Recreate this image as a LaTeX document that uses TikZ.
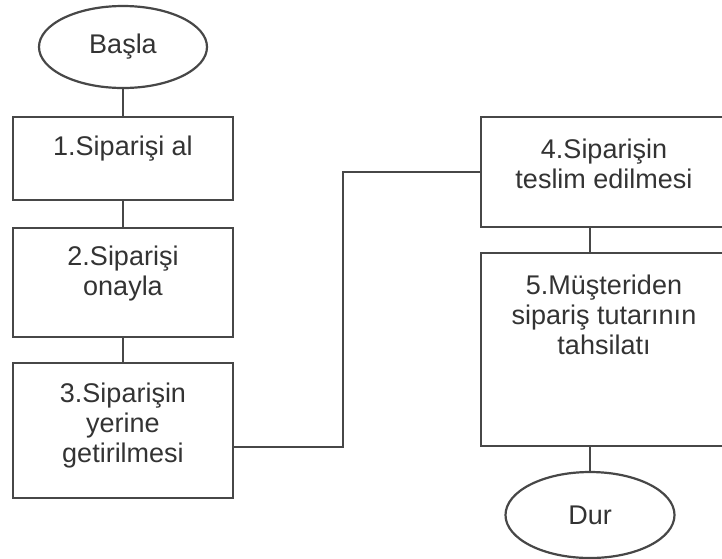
\documentclass[tikz,border=0pt]{standalone}
\usepackage{fontspec}
\setmainfont{Liberation Sans}
\usetikzlibrary{shapes.geometric,calc}

\tikzset{
  flowline/.style={draw=black!72, line width=2.2pt},
  terminal/.style={ellipse, flowline, inner sep=0pt, text=black!80,
    font=\fontsize{27}{30}\selectfont},
  stepbox/.style={rectangle, flowline, inner sep=0pt},
  steptext/.style={anchor=north, inner sep=0pt, align=center, text=black!80,
    font=\fontsize{27}{30}\selectfont},
  link/.style={flowline, line cap=rect}
}

\begin{document}
\begin{tikzpicture}[x=1pt, y=-1pt]
  \useasboundingbox (0,0) rectangle (722,558);
  \clip (0,0) rectangle (722,558);
  \fill[white] (0,0) rectangle (722,558);

  % terminals
  \node[terminal, minimum width=168pt, minimum height=82pt] (start) at (123,47) {Başla};
  \node[terminal, minimum width=169pt, minimum height=86pt] (stop) at (590,515) {Dur};

  % left column of steps
  \node[stepbox, minimum width=220pt, minimum height=83pt]  (b1) at (123,158.5) {};
  \node[stepbox, minimum width=220pt, minimum height=109pt] (b2) at (123,282.5) {};
  \node[stepbox, minimum width=220pt, minimum height=135pt] (b3) at (123,430.5) {};

  % right column of steps (runs past the right edge)
  \node[stepbox, minimum width=246pt, minimum height=110pt] (b4) at (604,172) {};
  \node[stepbox, minimum width=246pt, minimum height=193pt] (b5) at (604,349.5) {};

  % step captions, set at the top of each box
  \node[steptext] (t1) at (123,135.5) {1.Siparişi al};
  \node[steptext] (t2) at (123,245.5) {2.Siparişi\\onayla};
  \node[steptext] (t3) at (123,382.5) {3.Siparişin\\yerine\\getirilmesi};
  \node[steptext] (t4) at (604,138.5) {4.Siparişin\\teslim edilmesi};
  \node[steptext] (t5) at (604,274.5) {5.Müşteriden\\sipariş tutarının\\tahsilatı};

  % connectors
  \coordinate (j1) at (343,447);
  \draw[link] (start.south) -- (b1.north);
  \draw[link] (b1.south) -- (b2.north);
  \draw[link] (b2.south) -- (b3.north);
  \draw[link] (b3.east |- j1) -- (j1) |- (b4.west);
  \draw[link] (b4.south -| stop.north) -- (b5.north -| stop.north);
  \draw[link] (b5.south -| stop.north) -- (stop.north);
\end{tikzpicture}
\end{document}
